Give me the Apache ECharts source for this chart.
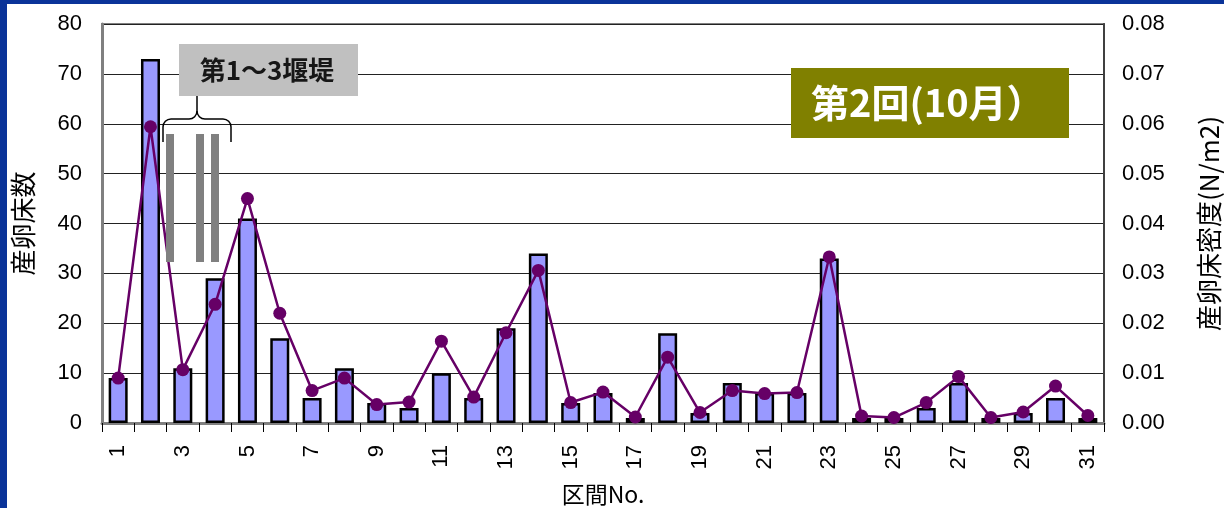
<!DOCTYPE html>
<html><head><meta charset="utf-8">
<script src="https://cdn.jsdelivr.net/npm/echarts@6/dist/echarts.min.js"></script>
<style>html,body{margin:0;padding:0;background:#fff}#c{width:1224px;height:508px}</style>
</head><body><div id="c"></div>
<script>
const categories = ['1','2','3','4','5','6','7','8','9','10','11','12','13','14','15','16','17','18','19','20','21','22','23','24','25','26','27','28','29','30','31'];
const counts = [9,73,11,29,41,17,5,11,4,3,10,5,19,34,4,6,1,18,2,8,6,6,33,1,1,3,8,1,2,5,1];
const density = [0.009,0.0594,0.0107,0.0238,0.045,0.022,0.0065,0.009,0.0037,0.0042,0.0164,0.0052,0.0181,0.0306,0.0041,0.0062,0.0012,0.0132,0.0021,0.0065,0.0059,0.0061,0.0333,0.0014,0.0011,0.0041,0.0093,0.0011,0.0022,0.0074,0.0015];
const leftAxis = {min: 0, max: 80, interval: 10};
const rightAxis = {min: 0, max: 0.08, interval: 0.01};
const xName = '区間No.';
const leftName = '産卵床数';
const rightName = '産卵床密度(N/m2)';
const damLabel = '第1～3堰堤';
const titleLabel = '第2回(10月）';

const cjk = 'Noto Sans CJK JP';
const latin = 'Liberation Sans';
const braceStyle = {stroke: '#000', lineWidth: 1.5, fill: null};
function ln(x1, y1, x2, y2) {
  return {type: 'line', shape: {x1, y1, x2, y2}, style: braceStyle, z: 100};
}
function arc(cx, cy, r, s, e) {
  return {type: 'arc', shape: {cx, cy, r, startAngle: s, endAngle: e, clockwise: true}, style: braceStyle, z: 100};
}
const P = Math.PI;
const chart = echarts.init(document.getElementById('c'));
chart.setOption({
  animation: false,
  backgroundColor: '#fff',
  grid: {left: 102, right: 120, top: 24, bottom: 85, containLabel: false, outerBoundsMode: 'none',
         show: true, borderColor: '#808080', borderWidth: 2, backgroundColor: 'transparent'},
  xAxis: {
    type: 'category', data: categories,
    name: xName, nameLocation: 'middle', nameGap: 60,
    nameTextStyle: {fontFamily: cjk, fontSize: 23, color: '#000'},
    axisLine: {show: true, lineStyle: {color: '#808080', width: 3}},
    axisTick: {show: true, interval: 0, length: 9, lineStyle: {color: '#000', width: 1}},
    axisLabel: {interval: 1, rotate: 90, margin: 22, fontFamily: latin, fontSize: 22, color: '#000'},
    splitLine: {show: false}
  },
  yAxis: [{
    type: 'value', min: leftAxis.min, max: leftAxis.max, interval: leftAxis.interval,
    name: leftName, nameLocation: 'middle', nameGap: 66, nameRotate: 90,
    nameTextStyle: {fontFamily: cjk, fontSize: 26, color: '#000'},
    axisLine: {show: true, lineStyle: {color: '#808080', width: 3}},
    axisTick: {show: false},
    axisLabel: {margin: 20, fontFamily: latin, fontSize: 22, color: '#000'},
    splitLine: {show: true, lineStyle: {color: '#222', width: 1}}
  }, {
    type: 'value', min: rightAxis.min, max: rightAxis.max, interval: rightAxis.interval,
    name: rightName, nameLocation: 'middle', nameGap: 92, nameRotate: 90,
    nameTextStyle: {fontFamily: cjk, fontSize: 26, color: '#000'},
    axisLine: {show: true, lineStyle: {color: '#404040', width: 2}},
    axisTick: {show: false},
    axisLabel: {margin: 18, fontFamily: latin, fontSize: 22, color: '#000', formatter: v => v.toFixed(2)},
    splitLine: {show: false}
  }],
  series: [{
    type: 'bar', data: counts, yAxisIndex: 0, barWidth: 19,
    itemStyle: {color: '#9999ff', borderColor: '#000', borderWidth: 2.5},
    z: 2
  }, {
    type: 'line', data: density, yAxisIndex: 1,
    symbol: 'circle', symbolSize: 13,
    lineStyle: {color: '#660066', width: 2.5},
    itemStyle: {color: '#660066'},
    z: 3
  }],
  graphic: [
    {type: 'rect', shape: {x: 0, y: 0, width: 7, height: 508}, style: {fill: '#0a3399'}, z: 200},
    {type: 'rect', shape: {x: 0, y: 0, width: 1224, height: 4}, style: {fill: '#0a3399'}, z: 200},
    {type: 'rect', shape: {x: 179, y: 44, width: 179, height: 52}, style: {fill: '#c0c0c0'}, z: 100},
    {type: 'text', x: 267, y: 70, style: {text: damLabel, fontFamily: cjk, fontWeight: 'bold', fontSize: 26, fill: '#161616', align: 'center', verticalAlign: 'middle'}, z: 101},
    ln(163, 142, 163, 127),
    arc(171, 127, 8, P, 1.5 * P),
    ln(171, 119, 189, 119),
    arc(189, 111, 8, 0, 0.5 * P),
    ln(197, 111, 197, 96),
    arc(205, 111, 8, 0.5 * P, P),
    ln(205, 119, 223, 119),
    arc(223, 127, 8, 1.5 * P, 2 * P),
    ln(231, 127, 231, 142),
    {type: 'rect', shape: {x: 166, y: 134, width: 8, height: 128}, style: {fill: '#808080'}, z: 100},
    {type: 'rect', shape: {x: 196, y: 134, width: 8, height: 128}, style: {fill: '#808080'}, z: 100},
    {type: 'rect', shape: {x: 211, y: 134, width: 8, height: 128}, style: {fill: '#808080'}, z: 100},
    {type: 'rect', shape: {x: 791, y: 68, width: 278, height: 70}, style: {fill: '#808000'}, z: 100},
    {type: 'text', x: 811, y: 103, style: {text: titleLabel, fontFamily: cjk, fontWeight: 'bold', fontSize: 38, fill: '#fff', verticalAlign: 'middle'}, z: 101}
  ]
});
</script></body></html>
